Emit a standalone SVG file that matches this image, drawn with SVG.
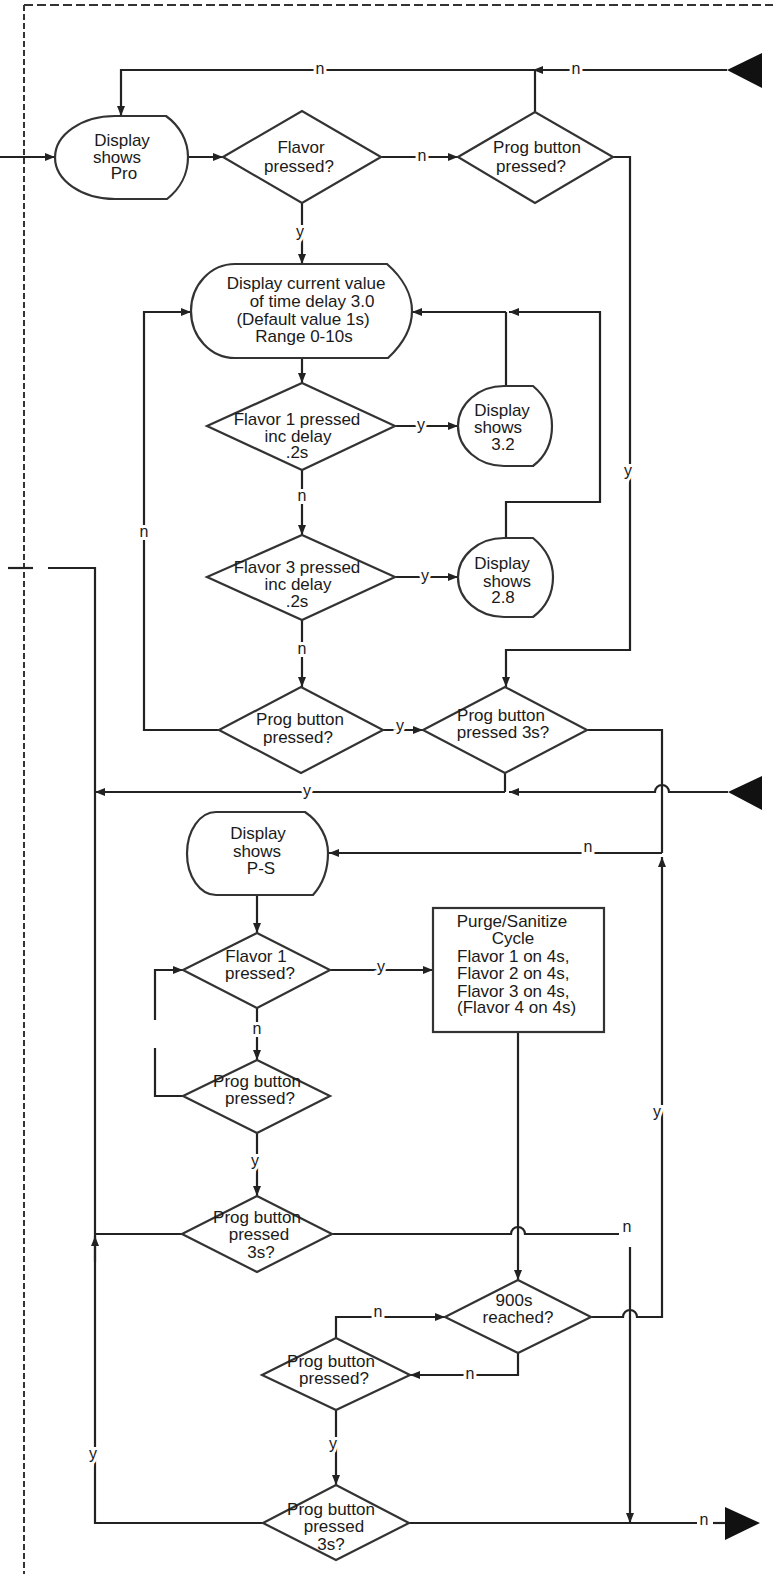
<svg xmlns="http://www.w3.org/2000/svg" width="773" height="1574" viewBox="0 0 773 1574">
<style>
.bg{fill:#fff}
.border{fill:none;stroke:#333;stroke-width:2}
.c path{fill:none;stroke:#222;stroke-width:2.2}
.n{fill:#fff;stroke:#333;stroke-width:2.2}
.t{font-family:"Liberation Sans",Arial,sans-serif;font-size:17px;fill:#1a1a1a;text-anchor:middle}
.ts{font-family:"Liberation Sans",Arial,sans-serif;font-size:17px;fill:#1a1a1a;text-anchor:start}
.l{font-family:"Liberation Sans",Arial,sans-serif;font-size:16px;fill:#1a1a1a;text-anchor:middle;stroke:#fff;stroke-width:6;paint-order:stroke}
.big{fill:#111}
</style>
<defs>
<marker id="ah" viewBox="0 0 10 8" refX="10" refY="4" markerWidth="10" markerHeight="8" markerUnits="userSpaceOnUse" orient="auto">
<path d="M0,0 L10,4 L0,8 z" fill="#222"/>
</marker>
</defs>
<rect class="bg" x="0" y="0" width="773" height="1574"/>
<g id="border">
<path class="border" d="M24,5 H773" stroke-dasharray="9 4"/>
<path class="border" d="M24,5 V1574" stroke-dasharray="6 3"/>
</g>
<g id="connectors" class="c">
<path d="M0,157 H55" marker-end="url(#ah)"/>
<path d="M188,157 H223" marker-end="url(#ah)"/>
<path d="M381,157 H458" marker-end="url(#ah)"/>
<path d="M535,112 V70"/>
<path d="M727,70 H533" marker-end="url(#ah)"/>
<path d="M535,70 H121 V116" marker-end="url(#ah)"/>
<path d="M302,203 V264" marker-end="url(#ah)"/>
<path d="M302,358 V383" marker-end="url(#ah)"/>
<path d="M395,426 H458" marker-end="url(#ah)"/>
<path d="M506,386 V312"/>
<path d="M506,538 V502 H600 V312 H509" marker-end="url(#ah)"/>
<path d="M506,312 H412" marker-end="url(#ah)"/>
<path d="M302,470 V535" marker-end="url(#ah)"/>
<path d="M395,577 H458" marker-end="url(#ah)"/>
<path d="M302,620 V687" marker-end="url(#ah)"/>
<path d="M219,730 H144 V312 H191" marker-end="url(#ah)"/>
<path d="M383,730 H423" marker-end="url(#ah)"/>
<path d="M613,157 H630 V650 H506 V687" marker-end="url(#ah)"/>
<path d="M587,730 H662 V853"/>
<path d="M505,773 V792"/>
<path d="M728,792 H669 A7,7 0 0 0 655,792 H509" marker-end="url(#ah)"/>
<path d="M505,792 H95" marker-end="url(#ah)"/>
<path d="M8,568 H33"/>
<path d="M48,568 H95 V1523 H263"/>
<path d="M95,1262 V1236" marker-end="url(#ah)"/>
<path d="M182,1234 H95"/>
<path d="M257,895 V933" marker-end="url(#ah)"/>
<path d="M330,970 H433" marker-end="url(#ah)"/>
<path d="M257,1008 V1060" marker-end="url(#ah)"/>
<path d="M183,1096 H155 V1048"/>
<path d="M155,1020 V970 H183" marker-end="url(#ah)"/>
<path d="M257,1133 V1196" marker-end="url(#ah)"/>
<path d="M332,1234 H511 A7,7 0 0 1 525,1234 H619"/>
<path d="M630,1247 V1523" marker-end="url(#ah)"/>
<path d="M518,1032 V1280" marker-end="url(#ah)"/>
<path d="M591,1317 H623 A7,7 0 0 1 637,1317 H662 V857" marker-end="url(#ah)"/>
<path d="M662,853 H329" marker-end="url(#ah)"/>
<path d="M518,1353 V1375 H410" marker-end="url(#ah)"/>
<path d="M336,1338 V1317 H445" marker-end="url(#ah)"/>
<path d="M336,1410 V1485" marker-end="url(#ah)"/>
<path d="M409,1523 H697"/>
<path d="M713,1523 H725"/>
<polygon class="big" points="727,70 762,53 762,88"/>
<polygon class="big" points="728,792 762,776 762,810"/>
<polygon class="big" points="725,1507 760,1523 725,1540"/>
<text class="l" x="422" y="161">n</text>
<text class="l" x="576" y="74">n</text>
<text class="l" x="320" y="74">n</text>
<text class="l" x="300" y="237">y</text>
<text class="l" x="421" y="430">y</text>
<text class="l" x="302" y="501">n</text>
<text class="l" x="425" y="581">y</text>
<text class="l" x="302" y="654">n</text>
<text class="l" x="144" y="537">n</text>
<text class="l" x="400" y="731">y</text>
<text class="l" x="628" y="476">y</text>
<text class="l" x="307" y="796">y</text>
<text class="l" x="93" y="1459">y</text>
<text class="l" x="381" y="972">y</text>
<text class="l" x="257" y="1034">n</text>
<text class="l" x="255" y="1166">y</text>
<text class="l" x="627" y="1232">n</text>
<text class="l" x="657" y="1117">y</text>
<text class="l" x="588" y="852">n</text>
<text class="l" x="470" y="1379">n</text>
<text class="l" x="378" y="1317">n</text>
<text class="l" x="333" y="1449">y</text>
<text class="l" x="704" y="1525">n</text>
</g>
<g id="display-pro">
<path class="n" d="M115,116 H166 C180,126 188,141 188,157 C188,174 180,189 167,199 H115 A60,41.5 0 0 1 115,116 Z"/>
<text class="t" x="122" y="146">Display</text>
<text class="t" x="117" y="163">shows</text>
<text class="t" x="124" y="179">Pro</text>
</g>
<g id="flavor-pressed">
<polygon class="n" points="223,157 302,111 381,157 302,203"/>
<text class="t" x="301" y="153">Flavor</text>
<text class="t" x="299" y="172">pressed?</text>
</g>
<g id="prog-pressed-1">
<polygon class="n" points="458,157 535,112 613,157 535,203"/>
<text class="t" x="537" y="153">Prog button</text>
<text class="t" x="531" y="172">pressed?</text>
</g>
<g id="display-current">
<path class="n" d="M235,264 H387 C403,278 412,295 412,311 C412,328 403,344 388,358 H235 A44,47 0 0 1 235,264 Z"/>
<text class="t" x="306" y="289">Display current value</text>
<text class="t" x="312" y="307">of time delay 3.0</text>
<text class="t" x="303" y="325">(Default value 1s)</text>
<text class="t" x="304" y="342">Range 0-10s</text>
</g>
<g id="flavor1-inc">
<polygon class="n" points="207,426 302,383 395,426 302,470"/>
<text class="t" x="297" y="425">Flavor 1 pressed</text>
<text class="t" x="298" y="442">inc delay</text>
<text class="t" x="297" y="458">.2s</text>
</g>
<g id="display-32">
<path class="n" d="M504,386 H533 C545,396 552,410 552,426 C552,443 545,457 533,466 H504 A46,40 0 0 1 504,386 Z"/>
<text class="t" x="502" y="416">Display</text>
<text class="t" x="498" y="433">shows</text>
<text class="t" x="503" y="450">3.2</text>
</g>
<g id="flavor3-inc">
<polygon class="n" points="207,577 302,535 395,577 302,620"/>
<text class="t" x="297" y="573">Flavor 3 pressed</text>
<text class="t" x="298" y="590">inc delay</text>
<text class="t" x="297" y="607">.2s</text>
</g>
<g id="display-28">
<path class="n" d="M504,538 H533 C545,548 553,562 553,577 C553,594 545,608 533,617 H504 A46,39.5 0 0 1 504,538 Z"/>
<text class="t" x="502" y="569">Display</text>
<text class="t" x="507" y="587">shows</text>
<text class="t" x="503" y="603">2.8</text>
</g>
<g id="prog-pressed-2">
<polygon class="n" points="219,730 301,687 383,730 301,773"/>
<text class="t" x="300" y="725">Prog button</text>
<text class="t" x="298" y="743">pressed?</text>
</g>
<g id="prog-3s-1">
<polygon class="n" points="423,730 505,687 587,730 505,773"/>
<text class="t" x="501" y="721">Prog button</text>
<text class="t" x="503" y="738">pressed 3s?</text>
</g>
<g id="display-ps">
<path class="n" d="M216,812 H305 C320,822 328,838 328,853 C328,870 322,885 313,895 H216 A29,41.5 0 0 1 216,812 Z"/>
<text class="t" x="258" y="839">Display</text>
<text class="t" x="257" y="857">shows</text>
<text class="t" x="261" y="874">P-S</text>
</g>
<g id="flavor1-ps">
<polygon class="n" points="183,970 257,933 330,970 257,1008"/>
<text class="t" x="256" y="962">Flavor 1</text>
<text class="t" x="260" y="979">pressed?</text>
</g>
<g id="purge-cycle">
<rect class="n" x="433" y="908" width="171" height="124"/>
<text class="t" x="512" y="927">Purge/Sanitize</text>
<text class="t" x="513" y="944">Cycle</text>
<text class="ts" x="457" y="962">Flavor 1 on 4s,</text>
<text class="ts" x="457" y="979">Flavor 2 on 4s,</text>
<text class="ts" x="457" y="997">Flavor 3 on 4s,</text>
<text class="ts" x="457" y="1013">(Flavor 4 on 4s)</text>
</g>
<g id="prog-pressed-ps">
<polygon class="n" points="183,1096 257,1060 330,1096 257,1133"/>
<text class="t" x="257" y="1087">Prog button</text>
<text class="t" x="260" y="1104">pressed?</text>
</g>
<g id="prog-3s-2">
<polygon class="n" points="182,1234 257,1196 332,1234 257,1272"/>
<text class="t" x="257" y="1223">Prog button</text>
<text class="t" x="259" y="1240">pressed</text>
<text class="t" x="261" y="1258">3s?</text>
</g>
<g id="reached-900s">
<polygon class="n" points="445,1317 518,1280 591,1317 518,1353"/>
<text class="t" x="514" y="1306">900s</text>
<text class="t" x="518" y="1323">reached?</text>
</g>
<g id="prog-pressed-low">
<polygon class="n" points="262,1375 336,1338 410,1375 336,1410"/>
<text class="t" x="331" y="1367">Prog button</text>
<text class="t" x="334" y="1384">pressed?</text>
</g>
<g id="prog-3s-3">
<polygon class="n" points="263,1523 336,1485 409,1523 336,1560"/>
<text class="t" x="331" y="1515">Prog button</text>
<text class="t" x="334" y="1532">pressed</text>
<text class="t" x="331" y="1550">3s?</text>
</g>
</svg>
